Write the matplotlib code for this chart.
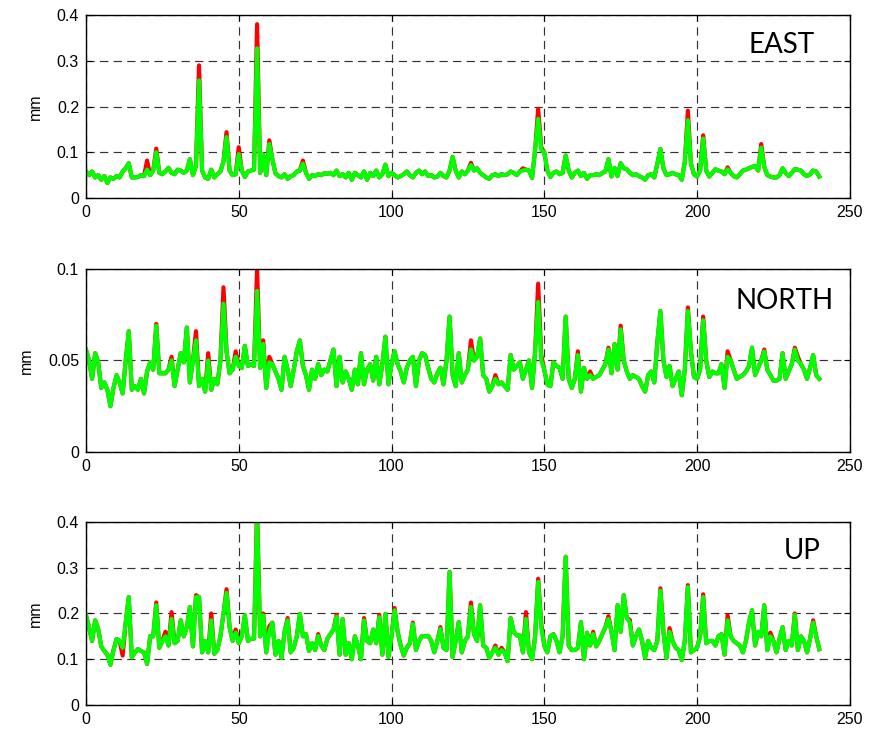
import matplotlib

matplotlib.use("Agg")
import matplotlib.pyplot as plt
import numpy as np

# green series (0..240), red overlay differs only at listed epochs
east_green = [
    0.058, 0.050, 0.058, 0.045, 0.050, 0.040, 0.048, 0.033, 0.045, 0.042,
    0.048, 0.045, 0.058, 0.065, 0.076, 0.045, 0.045, 0.046, 0.050, 0.048,
    0.062, 0.050, 0.060, 0.100, 0.055, 0.052, 0.058, 0.066, 0.055, 0.052,
    0.062, 0.060, 0.055, 0.060, 0.085, 0.050, 0.070, 0.257, 0.060, 0.045,
    0.042, 0.062, 0.045, 0.052, 0.058, 0.080, 0.133, 0.060, 0.050, 0.052,
    0.096, 0.060, 0.046, 0.058, 0.060, 0.062, 0.327, 0.055, 0.095, 0.050,
    0.118, 0.085, 0.054, 0.048, 0.045, 0.052, 0.042, 0.048, 0.050, 0.058,
    0.060, 0.075, 0.055, 0.042, 0.050, 0.048, 0.052, 0.050, 0.054, 0.053,
    0.055, 0.050, 0.060, 0.048, 0.052, 0.045, 0.055, 0.040, 0.055, 0.050,
    0.045, 0.058, 0.040, 0.055, 0.048, 0.060, 0.045, 0.052, 0.073, 0.048,
    0.055, 0.050, 0.045, 0.048, 0.052, 0.058, 0.050, 0.045, 0.055, 0.060,
    0.052, 0.058, 0.048, 0.050, 0.045, 0.047, 0.055, 0.048, 0.045, 0.060,
    0.090, 0.060, 0.045, 0.058, 0.052, 0.060, 0.072, 0.060, 0.065, 0.055,
    0.050, 0.045, 0.042, 0.050, 0.052, 0.048, 0.052, 0.050, 0.052, 0.058,
    0.055, 0.050, 0.058, 0.060, 0.062, 0.060, 0.044, 0.105, 0.173, 0.105,
    0.100, 0.060, 0.046, 0.055, 0.058, 0.052, 0.055, 0.093, 0.060, 0.045,
    0.055, 0.060, 0.048, 0.055, 0.042, 0.050, 0.050, 0.052, 0.050, 0.055,
    0.058, 0.085, 0.047, 0.066, 0.048, 0.076, 0.065, 0.063, 0.055, 0.050,
    0.052, 0.048, 0.045, 0.040, 0.050, 0.052, 0.045, 0.075, 0.107, 0.065,
    0.050, 0.052, 0.055, 0.052, 0.050, 0.040, 0.080, 0.170, 0.075, 0.052,
    0.047, 0.060, 0.130, 0.060, 0.047, 0.055, 0.063, 0.060, 0.058, 0.052,
    0.063, 0.055, 0.048, 0.045, 0.052, 0.060, 0.062, 0.065, 0.068, 0.070,
    0.060, 0.110, 0.068, 0.050, 0.047, 0.045, 0.045, 0.050, 0.065, 0.055,
    0.048, 0.055, 0.063, 0.062, 0.060, 0.052, 0.048, 0.052, 0.060, 0.058,
    0.047,
]
east_red_idx = [20, 23, 37, 46, 50, 56, 60, 71, 126, 143, 148, 149, 197, 202, 210, 221]
east_red_val = [0.082, 0.108, 0.290, 0.144, 0.111, 0.380, 0.126, 0.082, 0.077, 0.065,
                0.195, 0.111, 0.191, 0.137, 0.067, 0.118]

north_green = [
    0.056, 0.050, 0.040, 0.054, 0.049, 0.035, 0.038, 0.034, 0.025, 0.035,
    0.042, 0.038, 0.032, 0.050, 0.066, 0.034, 0.036, 0.034, 0.040, 0.032,
    0.044, 0.049, 0.045, 0.069, 0.043, 0.043, 0.043, 0.045, 0.050, 0.036,
    0.045, 0.054, 0.049, 0.068, 0.038, 0.050, 0.061, 0.036, 0.040, 0.033,
    0.050, 0.034, 0.040, 0.037, 0.050, 0.081, 0.055, 0.043, 0.045, 0.052,
    0.047, 0.046, 0.058, 0.047, 0.048, 0.047, 0.088, 0.046, 0.059, 0.035,
    0.049, 0.048, 0.044, 0.040, 0.034, 0.052, 0.045, 0.036, 0.045, 0.055,
    0.061, 0.047, 0.042, 0.034, 0.045, 0.040, 0.048, 0.042, 0.045, 0.044,
    0.050, 0.056, 0.036, 0.052, 0.038, 0.044, 0.040, 0.034, 0.045, 0.037,
    0.054, 0.037, 0.045, 0.048, 0.039, 0.052, 0.037, 0.048, 0.063, 0.037,
    0.048, 0.055, 0.048, 0.044, 0.038, 0.046, 0.050, 0.052, 0.036, 0.050,
    0.054, 0.053, 0.046, 0.040, 0.038, 0.043, 0.046, 0.037, 0.050, 0.074,
    0.042, 0.036, 0.054, 0.038, 0.042, 0.045, 0.056, 0.050, 0.052, 0.062,
    0.042, 0.040, 0.033, 0.036, 0.040, 0.037, 0.038, 0.036, 0.034, 0.053,
    0.045, 0.047, 0.049, 0.040, 0.045, 0.050, 0.035, 0.055, 0.082, 0.050,
    0.045, 0.037, 0.036, 0.049, 0.047, 0.046, 0.040, 0.074, 0.040, 0.035,
    0.040, 0.053, 0.033, 0.046, 0.040, 0.042, 0.040, 0.041, 0.042, 0.045,
    0.048, 0.056, 0.043, 0.059, 0.045, 0.067, 0.050, 0.044, 0.040, 0.042,
    0.041, 0.040, 0.036, 0.033, 0.042, 0.044, 0.038, 0.060, 0.077, 0.050,
    0.041, 0.047, 0.036, 0.040, 0.044, 0.031, 0.045, 0.077, 0.055, 0.041,
    0.040, 0.045, 0.072, 0.050, 0.041, 0.044, 0.043, 0.043, 0.048, 0.035,
    0.052, 0.050, 0.045, 0.040, 0.041, 0.042, 0.044, 0.047, 0.057, 0.042,
    0.046, 0.050, 0.055, 0.045, 0.042, 0.039, 0.039, 0.040, 0.054, 0.040,
    0.044, 0.048, 0.056, 0.050, 0.048, 0.045, 0.040, 0.046, 0.053, 0.042,
    0.040,
]
north_red_idx = [23, 28, 36, 40, 45, 49, 56, 58, 60, 126, 134, 148, 149, 161, 165,
                 171, 175, 197, 202, 210, 222, 232, 233]
north_red_val = [0.070, 0.052, 0.066, 0.054, 0.090, 0.055, 0.100, 0.061, 0.052, 0.061,
                 0.042, 0.092, 0.053, 0.055, 0.044, 0.057, 0.069, 0.079, 0.074, 0.055,
                 0.056, 0.057, 0.052]

up_green = [
    0.196, 0.170, 0.140, 0.185, 0.166, 0.128, 0.118, 0.110, 0.088, 0.120,
    0.144, 0.140, 0.125, 0.180, 0.236, 0.104, 0.115, 0.122, 0.118, 0.115,
    0.090, 0.150, 0.150, 0.218, 0.125, 0.140, 0.150, 0.130, 0.188, 0.135,
    0.140, 0.185, 0.150, 0.170, 0.214, 0.128, 0.236, 0.236, 0.115, 0.140,
    0.115, 0.185, 0.112, 0.120, 0.150, 0.200, 0.245, 0.170, 0.140, 0.158,
    0.135, 0.150, 0.196, 0.140, 0.145, 0.145, 0.410, 0.150, 0.196, 0.115,
    0.160, 0.180, 0.110, 0.140, 0.103, 0.160, 0.185, 0.115, 0.125, 0.150,
    0.199, 0.150, 0.155, 0.118, 0.135, 0.120, 0.151, 0.130, 0.120, 0.145,
    0.155, 0.165, 0.193, 0.110, 0.188, 0.110, 0.135, 0.100, 0.150, 0.130,
    0.100, 0.185, 0.140, 0.135, 0.165, 0.135, 0.192, 0.110, 0.199, 0.105,
    0.150, 0.207, 0.160, 0.130, 0.108, 0.125, 0.135, 0.177, 0.120, 0.140,
    0.151, 0.150, 0.151, 0.140, 0.115, 0.140, 0.166, 0.125, 0.120, 0.291,
    0.105, 0.140, 0.181, 0.115, 0.140, 0.150, 0.214, 0.155, 0.140, 0.218,
    0.130, 0.125, 0.103, 0.115, 0.125, 0.110, 0.120, 0.115, 0.096, 0.190,
    0.160, 0.152, 0.152, 0.115, 0.188, 0.115, 0.100, 0.150, 0.269, 0.170,
    0.130, 0.115, 0.150, 0.155, 0.140, 0.115, 0.150, 0.324, 0.130, 0.120,
    0.120, 0.125, 0.181, 0.100, 0.158, 0.130, 0.155, 0.128, 0.140, 0.155,
    0.170, 0.188, 0.160, 0.120, 0.218, 0.160, 0.240, 0.190, 0.180, 0.130,
    0.150, 0.165, 0.140, 0.103, 0.140, 0.125, 0.120, 0.140, 0.250, 0.160,
    0.103, 0.160, 0.140, 0.125, 0.120, 0.098, 0.140, 0.258, 0.115, 0.120,
    0.125, 0.150, 0.236, 0.135, 0.140, 0.140, 0.130, 0.150, 0.155, 0.110,
    0.185, 0.150, 0.140, 0.135, 0.130, 0.115, 0.140, 0.180, 0.207, 0.130,
    0.160, 0.150, 0.218, 0.120, 0.150, 0.140, 0.115, 0.145, 0.170, 0.120,
    0.140, 0.130, 0.197, 0.120, 0.150, 0.140, 0.115, 0.145, 0.180, 0.150,
    0.122,
]
up_red_idx = [12, 23, 26, 28, 36, 41, 46, 49, 56, 58, 60, 66, 76, 82, 91, 96, 101,
              107, 116, 126, 134, 136, 144, 148, 149, 166, 171, 178, 188, 191, 197,
              202, 210, 224, 232, 238]
up_red_val = [0.108, 0.224, 0.160, 0.203, 0.240, 0.200, 0.253, 0.165, 0.430, 0.200,
              0.172, 0.190, 0.155, 0.197, 0.190, 0.197, 0.212, 0.180, 0.170, 0.224,
              0.130, 0.125, 0.203, 0.276, 0.178, 0.160, 0.194, 0.186, 0.255, 0.168,
              0.262, 0.242, 0.196, 0.158, 0.200, 0.185]

panels = [
    ("EAST", east_green, east_red_idx, east_red_val, [0, 0.1, 0.2, 0.3, 0.4],
     ["0", "0.1", "0.2", "0.3", "0.4"], 0.4, (0.91, 0.836)),
    ("NORTH", north_green, north_red_idx, north_red_val, [0, 0.05, 0.1],
     ["0", "0.05", "0.1"], 0.1, (0.914, 0.825)),
    ("UP", up_green, up_red_idx, up_red_val, [0, 0.1, 0.2, 0.3, 0.4],
     ["0", "0.1", "0.2", "0.3", "0.4"], 0.4, (0.937, 0.842)),
]
bottoms = [0.7291, 0.3817, 0.0356]

plt.rcParams["font.family"] = ["Liberation Sans", "DejaVu Sans"]
fig = plt.figure(figsize=(8.81, 7.31), dpi=100)

for (name, green, red_idx, red_val, yticks, ylabels, ymax, txy), b in zip(panels, bottoms):
    ax = fig.add_axes([0.0976, b, 0.867, 0.2503])
    x = np.arange(len(green))
    red = np.array(green, dtype=float)
    red[red_idx] = red_val
    ax.plot(x, red, color="#ff0000", linewidth=3.0, solid_joinstyle="round")
    ax.plot(x, green, color="#00ff00", linewidth=3.0, solid_joinstyle="round")
    ax.set_xlim(0, 250)
    ax.set_ylim(0, ymax)
    ax.set_xticks([0, 50, 100, 150, 200, 250])
    ax.set_yticks(yticks)
    ax.set_yticklabels(ylabels)
    ax.grid(True, color="#333333", linestyle=(0, (7, 4.5)), linewidth=0.85)
    ax.tick_params(direction="in", length=4, top=True, right=True, labelsize=11.5,
                   pad=5)
    for s in ax.spines.values():
        s.set_linewidth(1.0)
    ax.set_ylabel("mm", fontsize=11.5, labelpad=10)
    ax.text(txy[0], txy[1], name, transform=ax.transAxes, ha="center", va="center",
            fontsize=20, family=["Lato", "DejaVu Sans"])

fig.savefig("out.png", dpi=100)
